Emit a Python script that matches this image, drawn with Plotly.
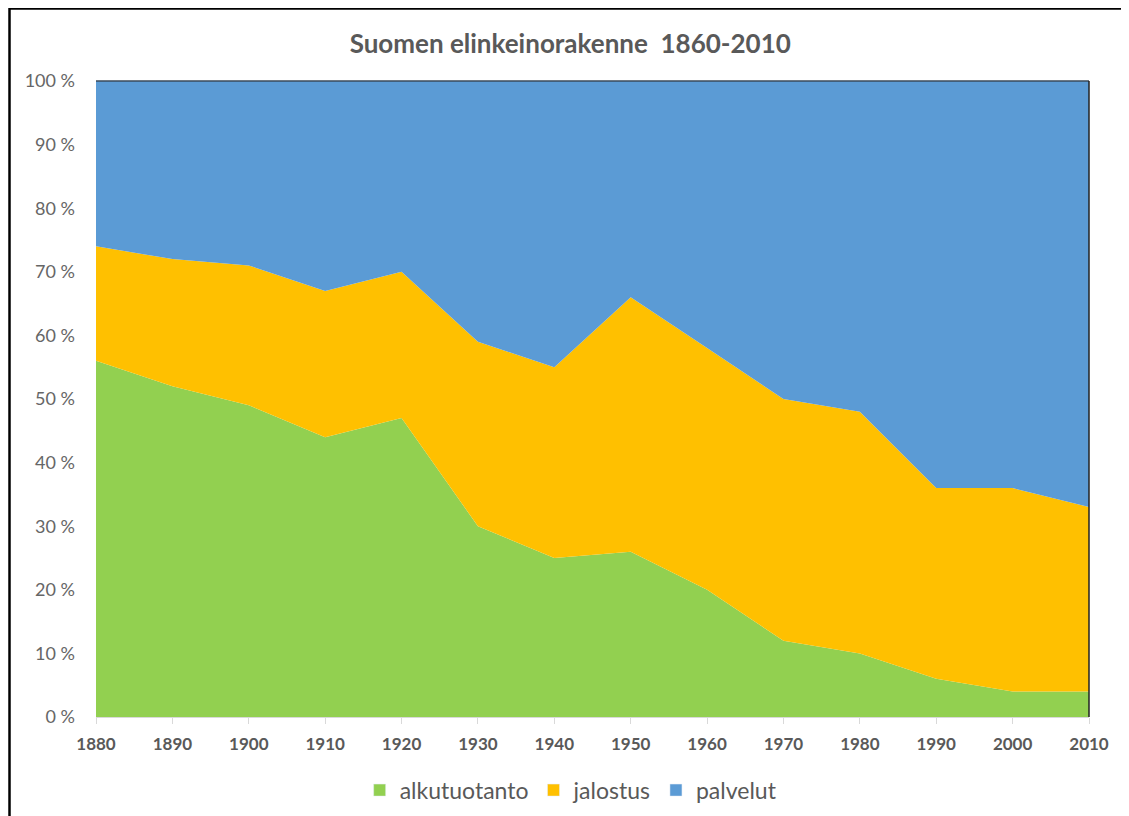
import plotly.graph_objects as go

years = [1880, 1890, 1900, 1910, 1920, 1930, 1940, 1950, 1960, 1970, 1980, 1990, 2000, 2010]
alkutuotanto = [56, 52, 49, 44, 47, 30, 25, 26, 20, 12, 10, 6, 4, 4]
jalostus = [18, 20, 22, 23, 23, 29, 30, 40, 38, 38, 38, 30, 32, 29]
palvelut = [26, 28, 29, 33, 30, 41, 45, 34, 42, 50, 52, 64, 64, 67]
y_ticks = [0, 10, 20, 30, 40, 50, 60, 70, 80, 90, 100]

series = [
    ("alkutuotanto", alkutuotanto, "#92D050"),
    ("jalostus", jalostus, "#FFC000"),
    ("palvelut", palvelut, "#5B9BD5"),
]

fig = go.Figure()
for name, vals, col in series:
    fig.add_trace(go.Scatter(
        x=years, y=vals, name=name, mode="lines", stackgroup="one",
        line=dict(width=0, color=col), fillcolor=col, showlegend=False,
    ))
# legend-only square markers
for name, vals, col in series:
    fig.add_trace(go.Bar(x=[None], y=[None], name=name, marker=dict(color=col),
                         showlegend=True))

FONT = "Lato, 'Open Sans', sans-serif"
fig.update_layout(
    width=1129, height=816,
    margin=dict(l=88, r=48, t=73, b=107),
    paper_bgcolor="white", plot_bgcolor="white",
    title=dict(text="<b>Suomen elinkeinorakenne  1860-2010</b>", x=0.498, xanchor="center",
               xref="container", y=0.956, yanchor="middle",
               font=dict(family=FONT, size=26, color="#595959")),
    showlegend=True,
    legend=dict(orientation="h", x=0.478, xanchor="center", y=-0.115, yanchor="middle",
                font=dict(family=FONT, size=23, color="#595959"), traceorder="normal",
                itemwidth=30, tracegroupgap=0),
    xaxis=dict(range=[1880, 2010], tickvals=years, ticktext=[f"<b>{y}</b>" for y in years],
               showgrid=False, zeroline=False, ticks="outside", ticklen=6, tickcolor="#d9d9d9",
               showline=True, linecolor="#d9d9d9", linewidth=1, ticklabelstandoff=6,
               tickfont=dict(family=FONT, size=17, color="#595959")),
    yaxis=dict(range=[0, 100], tickvals=y_ticks, ticktext=[f"{v} %" for v in y_ticks],
               showgrid=False, zeroline=False, ticks="", ticklabelstandoff=20,
               tickfont=dict(family=FONT, size=18, color="#666666")),
)

# plot-area edge lines (top and right)
fig.add_shape(type="line", xref="paper", yref="paper", x0=0, x1=1, y0=1, y1=1,
              line=dict(color="#3a4a5a", width=1.5))
fig.add_shape(type="line", xref="paper", yref="paper", x0=1, x1=1, y0=0, y1=1,
              line=dict(color="#222222", width=1.5))
# outer frame: top and left edges of the picture border
fig.add_shape(type="line", xref="paper", yref="paper",
              x0=(9 - 96) / 993, x1=(1140 - 96) / 993, y0=(717 - 8.5) / 636, y1=(717 - 8.5) / 636,
              line=dict(color="black", width=2.5))
fig.add_shape(type="line", xref="paper", yref="paper",
              x0=(9.5 - 96) / 993, x1=(9.5 - 96) / 993, y0=(717 - 8) / 636, y1=(717 - 830) / 636,
              line=dict(color="black", width=2.5))

fig.write_html("out.html")
